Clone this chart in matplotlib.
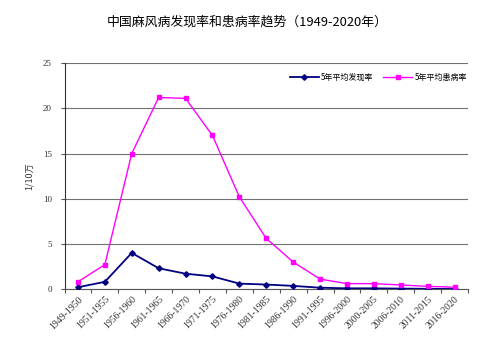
import matplotlib.pyplot as plt
import numpy as np

plt.rcParams['font.family'] = ['Noto Sans CJK SC', 'DejaVu Sans']

# 数据
periods = ['1949-1950', '1951-1955', '1956-1960', '1961-1965', '1966-1970',
           '1971-1975', '1976-1980', '1981-1985', '1986-1990', '1991-1995',
           '1996-2000', '2000-2005', '2006-2010', '2011-2015', '2016-2020']
detection_rate = [0.2, 0.8, 4.0, 2.3, 1.7, 1.4, 0.6, 0.5, 0.35, 0.15,
                  0.08, 0.08, 0.05, 0.03, 0.0]
prevalence_rate = [0.8, 2.7, 15.0, 21.2, 21.1, 17.0, 10.2, 5.6, 3.0, 1.1,
                   0.6, 0.6, 0.45, 0.3, 0.2]

fig = plt.figure(figsize=(5, 3.47), dpi=100)
ax = fig.add_axes([0.129, 0.167, 0.807, 0.651])

x = np.arange(len(periods))
ax.plot(x, detection_rate, color='#000080', marker='D', markersize=2.8,
        linewidth=1.3, label='5年平均发现率', zorder=3)
ax.plot(x, prevalence_rate, color='#FF00FF', marker='s', markersize=3.4,
        linewidth=1.0, label='5年平均患病率', zorder=3)

ax.set_xlim(-0.5, len(periods) - 0.5)
ax.set_ylim(0, 25)
ax.set_yticks([0, 5, 10, 15, 20, 25])
ax.yaxis.grid(True, color='#707070', linewidth=0.8)
ax.set_axisbelow(True)

# x刻度在类别之间
ax.set_xticks(np.arange(len(periods) + 1) - 0.5)
ax.set_xticklabels([])
ax.set_xticks(x, minor=True)
ax.set_xticklabels(periods, minor=True, rotation=45, ha='right',
                   rotation_mode='anchor', fontsize=7,
                   family='Liberation Serif', color='#333333')
ax.tick_params(axis='x', which='minor', length=0, pad=4)
ax.tick_params(axis='x', which='major', length=3, color='#555555')
ax.tick_params(axis='y', length=3, color='#555555', labelsize=6.5,
               labelcolor='#333333', pad=6)
for lbl in ax.get_yticklabels():
    lbl.set_family('Liberation Serif')

for s in ['top', 'right']:
    ax.spines[s].set_visible(False)
ax.spines['left'].set_color('#333333')
ax.spines['bottom'].set_color('#555555')

ax.set_ylabel('1/10万', fontsize=6.5, family=['Noto Sans CJK SC'],
              color='#333333', labelpad=7)

ax.legend(loc='upper right', ncol=2, frameon=False, fontsize=5.8,
          bbox_to_anchor=(1.015, 0.99), handlelength=3.6, columnspacing=1.2,
          handletextpad=0.3)

fig.suptitle('中国麻风病发现率和患病率趋势（1949-2020年）', fontsize=9.3,
             x=0.495, y=0.955)

plt.savefig('out.png', dpi=100, facecolor='white')
